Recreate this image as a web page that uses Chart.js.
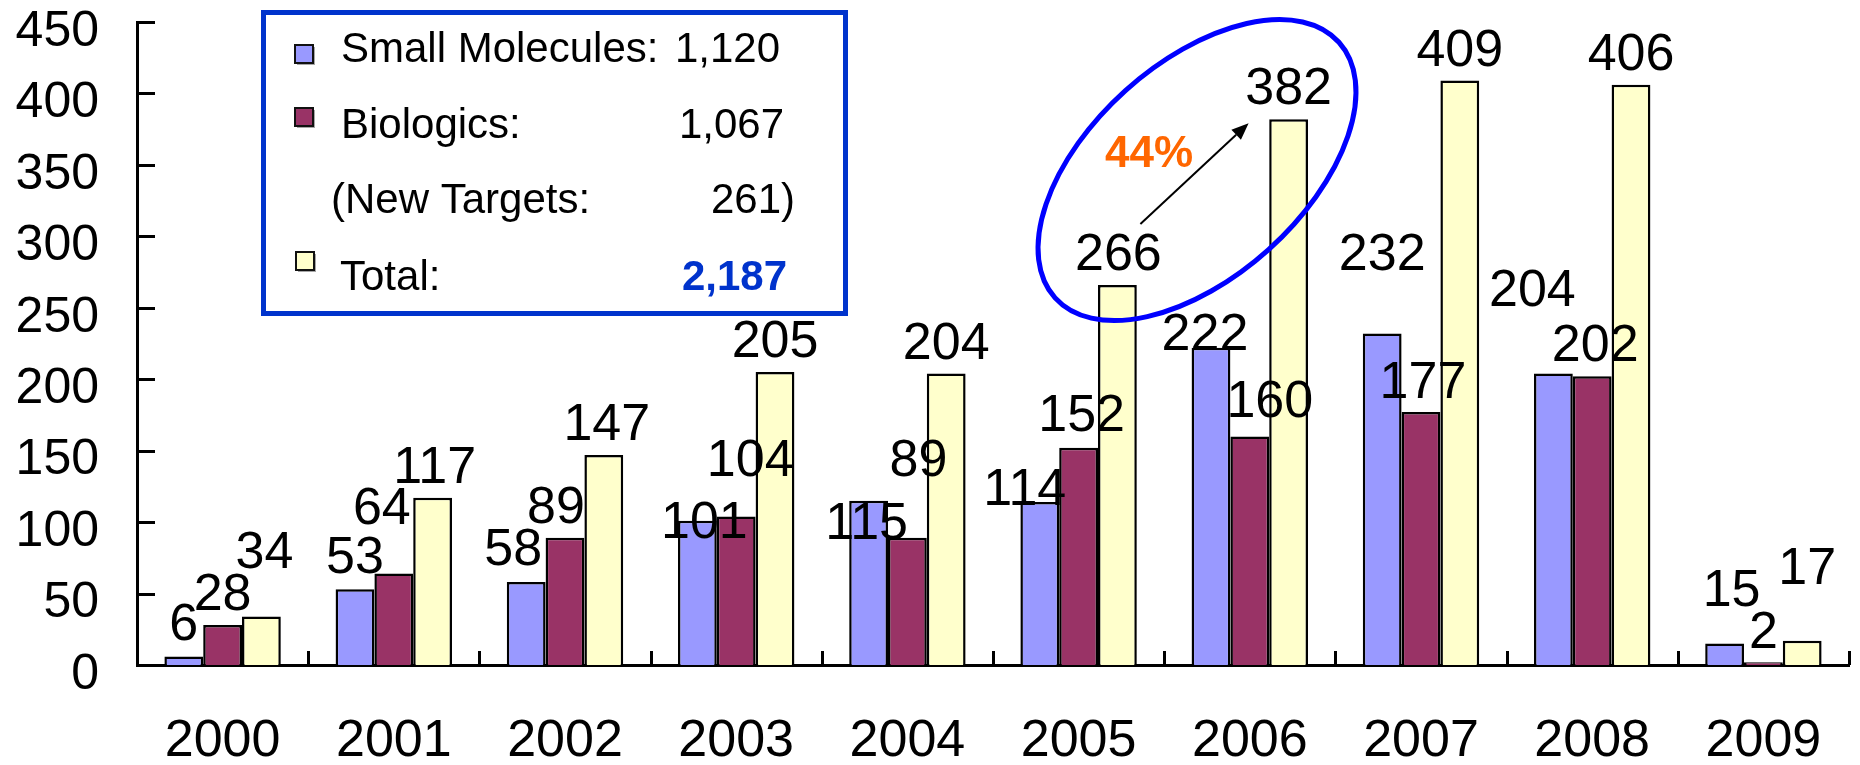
<!DOCTYPE html>
<html>
<head>
<meta charset="utf-8">
<script src="https://cdn.jsdelivr.net/npm/chart.js@4/dist/chart.umd.min.js"></script>
<style>
  html, body { margin: 0; padding: 0; background: #ffffff; }
  #wrap { width: 1860px; height: 765px; }
</style>
</head>
<body>
<div id="wrap"><canvas id="c" width="1860" height="765"></canvas></div>
<script>
// ---- data ----
const years = ['2000', '2001', '2002', '2003', '2004', '2005', '2006', '2007', '2008', '2009'];
const smallMolecules = [6, 53, 58, 101, 115, 114, 222, 232, 204, 15];
const biologics = [28, 64, 89, 104, 89, 152, 160, 177, 202, 2];
const totals = [34, 117, 147, 205, 204, 266, 382, 409, 406, 17];
const newTargets = 261;
const growthText = '44%';

// label nudges (px) relative to default spot above each bar: [dx, extra lift]
const smallLabelShift = [[0,1],[0,1],[-13,2],[7,-32],[-2,-53],[-15,-18],[-6,-17],[0,48],[-21,53],[7,23]];
const bioLabelShift   = [[0,0],[-12,35],[-9,0],[14,25],[11,47],[3,2],[20,4],[2,-1],[3,0],[0,-1]];
const totalLabelShift = [[3,33],[2,0],[3,0],[0,0],[0,0],[1,0],[0,0],[0,0],[0,0],[5,42]];
const labelShifts = [smallLabelShift, bioLabelShift, totalLabelShift];

const FONT = "'Liberation Sans', Arial, Helvetica, sans-serif";
const fmt = n => n.toLocaleString('en-US');
const sum = a => a.reduce((s, v) => s + v, 0);

// ---- plugins ----
const innerTicks = {
  id: 'innerTicks',
  afterDatasetsDraw(chart) {
    const ctx = chart.ctx;
    const xs = chart.scales.x, ys = chart.scales.y;
    const area = chart.chartArea;
    ctx.save();
    ctx.strokeStyle = '#000';
    ctx.lineWidth = 3;
    ctx.beginPath();
    ys.ticks.forEach((t, i) => {
      const y = Math.round(ys.getPixelForTick(i)) + 0.5;
      ctx.moveTo(area.left, y);
      ctx.lineTo(area.left + 18, y);
    });
    for (let i = 0; i <= xs.ticks.length; i++) {
      const x = Math.round(xs.getPixelForValue(i - 0.5)) + 0.5;
      ctx.moveTo(x, area.bottom);
      ctx.lineTo(x, area.bottom - 14);
    }
    ctx.stroke();
    ctx.restore();
  }
};

const valueLabels = {
  id: 'valueLabels',
  afterDatasetsDraw(chart) {
    const ctx = chart.ctx;
    ctx.save();
    ctx.font = `52px ${FONT}`;
    ctx.fillStyle = '#000';
    ctx.textAlign = 'center';
    ctx.textBaseline = 'alphabetic';
    chart.data.datasets.forEach((ds, di) => {
      const meta = chart.getDatasetMeta(di);
      meta.data.forEach((el, i) => {
        const [dx, dy] = labelShifts[di][i];
        ctx.fillText(String(ds.data[i]), el.x + dx, el.y - 15 - dy);
      });
    });
    ctx.restore();
  }
};

const annotations = {
  id: 'annotations',
  afterDraw(chart) {
    const ctx = chart.ctx;
    const m = chart.getDatasetMeta(2);
    const a = m.data[5], b = m.data[6];
    const mx = (a.x + b.x) / 2, my = (a.y + b.y) / 2;
    ctx.save();
    // ellipse
    ctx.beginPath();
    ctx.ellipse(mx - 6, my - 32, 191, 107, -42 * Math.PI / 180, 0, Math.PI * 2);
    ctx.strokeStyle = '#0000FF';
    ctx.lineWidth = 5;
    ctx.stroke();
    // arrow
    const x1 = a.x + 23, y1 = a.y - 61, x2 = b.x - 40, y2 = b.y + 4;
    const ang = Math.atan2(y2 - y1, x2 - x1);
    const hl = 17, hw = 7;
    const bx = x2 - hl * Math.cos(ang), by = y2 - hl * Math.sin(ang);
    ctx.beginPath();
    ctx.moveTo(x1, y1);
    ctx.lineTo(bx, by);
    ctx.strokeStyle = '#000';
    ctx.lineWidth = 2;
    ctx.stroke();
    ctx.beginPath();
    ctx.moveTo(x2, y2);
    ctx.lineTo(bx + hw * Math.sin(ang), by - hw * Math.cos(ang));
    ctx.lineTo(bx - hw * Math.sin(ang), by + hw * Math.cos(ang));
    ctx.closePath();
    ctx.fillStyle = '#000';
    ctx.fill();
    // 44%
    ctx.font = `bold 44px ${FONT}`;
    ctx.fillStyle = '#FF6600';
    ctx.textAlign = 'center';
    ctx.textBaseline = 'alphabetic';
    ctx.fillText(growthText, mx - 54, my - 35);
    ctx.restore();
  }
};

const legendBox = {
  id: 'legendBox',
  afterDraw(chart) {
    const ctx = chart.ctx;
    const ds = chart.data.datasets;
    ctx.save();
    ctx.fillStyle = '#fff';
    ctx.fillRect(263.5, 12.5, 582, 301);
    ctx.strokeStyle = '#0033CC';
    ctx.lineWidth = 5;
    ctx.strokeRect(263.5, 12.5, 582, 301);

    const marker = (x, y, color) => {
      ctx.fillStyle = 'rgba(0,0,0,0.35)';
      ctx.fillRect(x + 2, y + 2, 18, 18);
      ctx.fillStyle = color;
      ctx.fillRect(x, y, 18, 18);
      ctx.strokeStyle = '#111';
      ctx.lineWidth = 2;
      ctx.strokeRect(x, y, 18, 18);
    };
    marker(295, 45, ds[0].backgroundColor);
    marker(295, 108, ds[1].backgroundColor);
    marker(296, 252, ds[2].backgroundColor);

    ctx.font = `42px ${FONT}`;
    ctx.fillStyle = '#000';
    ctx.textBaseline = 'alphabetic';
    ctx.textAlign = 'left';
    ctx.fillText(ds[0].label + ':', 341, 62);
    ctx.fillText(ds[1].label + ':', 341, 138);
    ctx.fillText('(New Targets:', 331, 213);
    ctx.fillText(ds[2].label + ':', 340, 290);
    ctx.textAlign = 'right';
    ctx.fillText(fmt(sum(ds[0].data)), 780, 62);
    ctx.fillText(fmt(sum(ds[1].data)), 784, 138);
    ctx.fillText(fmt(newTargets) + ')', 795, 213);
    ctx.font = `bold 42px ${FONT}`;
    ctx.fillStyle = '#0033CC';
    ctx.fillText(fmt(sum(ds[2].data)), 787, 290);
    ctx.restore();
  }
};

const zeroPad = s => { s.paddingTop = 0; s.paddingBottom = 0; s.paddingLeft = 0; s.paddingRight = 0; };

// ---- chart ----
new Chart(document.getElementById('c'), {
  type: 'bar',
  data: {
    labels: years,
    datasets: [
      { label: 'Small Molecules', data: smallMolecules, backgroundColor: '#9999FF', borderColor: '#000', borderWidth: 2.5 },
      { label: 'Biologics', data: biologics, backgroundColor: '#993366', borderColor: '#000', borderWidth: 2.5 },
      { label: 'Total', data: totals, backgroundColor: '#FFFFCC', borderColor: '#000', borderWidth: 2.5 }
    ]
  },
  options: {
    responsive: false,
    animation: false,
    devicePixelRatio: 1,
    layout: { padding: { top: 22, right: 11, left: 0, bottom: 0 } },
    plugins: { legend: { display: false }, tooltip: { enabled: false }, title: { display: false } },
    datasets: { bar: { categoryPercentage: 0.68, barPercentage: 1.0 } },
    scales: {
      x: {
        offset: true,
        grid: { display: false, drawTicks: false },
        border: { display: true, color: '#000', width: 3 },
        ticks: { color: '#000', font: { family: FONT, size: 52 }, padding: 45, maxRotation: 0, autoSkip: false },
        afterFit: s => { s.height = 100; zeroPad(s); }
      },
      y: {
        min: 0, max: 450,
        grid: { display: false, drawTicks: false },
        border: { display: true, color: '#000', width: 3 },
        ticks: { stepSize: 50, color: '#000', font: { family: FONT, size: 50 }, padding: 38, labelOffset: 10 },
        afterFit: s => { s.width = 137; zeroPad(s); }
      }
    }
  },
  plugins: [innerTicks, valueLabels, annotations, legendBox]
});
</script>
</body>
</html>
